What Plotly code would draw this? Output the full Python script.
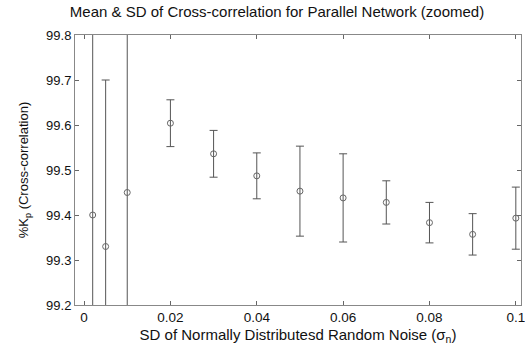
import plotly.graph_objects as go

noise_sd = [0.002, 0.005, 0.01, 0.02, 0.03, 0.04, 0.05, 0.06, 0.07, 0.08, 0.09, 0.1]
mean_kp = [99.40, 99.33, 99.45, 99.604, 99.536, 99.487, 99.453, 99.438, 99.428, 99.383, 99.357, 99.393]
sd_kp = [1.00, 0.37, 0.60, 0.052, 0.052, 0.051, 0.100, 0.098, 0.048, 0.045, 0.046, 0.069]

x_ticks = [0, 0.02, 0.04, 0.06, 0.08, 0.1]
x_tick_labels = ["0", "0.02", "0.04", "0.06", "0.08", "0.1"]
y_ticks = [99.2, 99.3, 99.4, 99.5, 99.6, 99.7, 99.8]
y_tick_labels = ["99.2", "99.3", "99.4", "99.5", "99.6", "99.7", "99.8"]

fig = go.Figure()
fig.add_trace(go.Scatter(
    x=noise_sd, y=mean_kp, mode="markers",
    marker=dict(symbol="circle-open", size=6, color="#666666", line=dict(width=1)),
    error_y=dict(type="data", array=sd_kp, visible=True, color="#555555", thickness=1, width=4),
    showlegend=False, cliponaxis=True,
))

font = "Liberation Sans, Arial, sans-serif"
fig.update_layout(
    width=525, height=351,
    margin=dict(l=75, r=4, t=35, b=46),
    paper_bgcolor="white", plot_bgcolor="white",
    font=dict(family=font, size=14, color="#111111"),
    title=dict(text="Mean & SD of Cross-correlation for Parallel Network (zoomed)",
               x=277 / 525, xanchor="center", y=1 - 12 / 351, yanchor="middle",
               font=dict(size=15, family=font, color="#111111")),
)
fig.update_xaxes(
    range=[-0.0021, 0.1012], tickvals=x_ticks, ticktext=x_tick_labels,
    ticks="inside", ticklen=4, tickcolor="#666666", mirror="ticks",
    showline=True, linecolor="#888888", linewidth=1, showgrid=False, zeroline=False,
    tickfont=dict(size=13.5), ticklabeloverflow="allow", automargin=False,
    title=dict(text="SD of Normally Distributesd Random Noise (σ<sub>n</sub>)", standoff=5,
               font=dict(size=15)),
)
fig.update_yaxes(
    range=[99.2, 99.8], tickvals=y_ticks, ticktext=y_tick_labels,
    ticks="inside", ticklen=4, tickcolor="#666666", mirror="ticks",
    showline=True, linecolor="#888888", linewidth=1, showgrid=False, zeroline=False,
    tickfont=dict(size=13),
    title=dict(text="%K<sub>p</sub> (Cross-correlation)", standoff=14, font=dict(size=13)),
)
fig.write_html("out.html")
